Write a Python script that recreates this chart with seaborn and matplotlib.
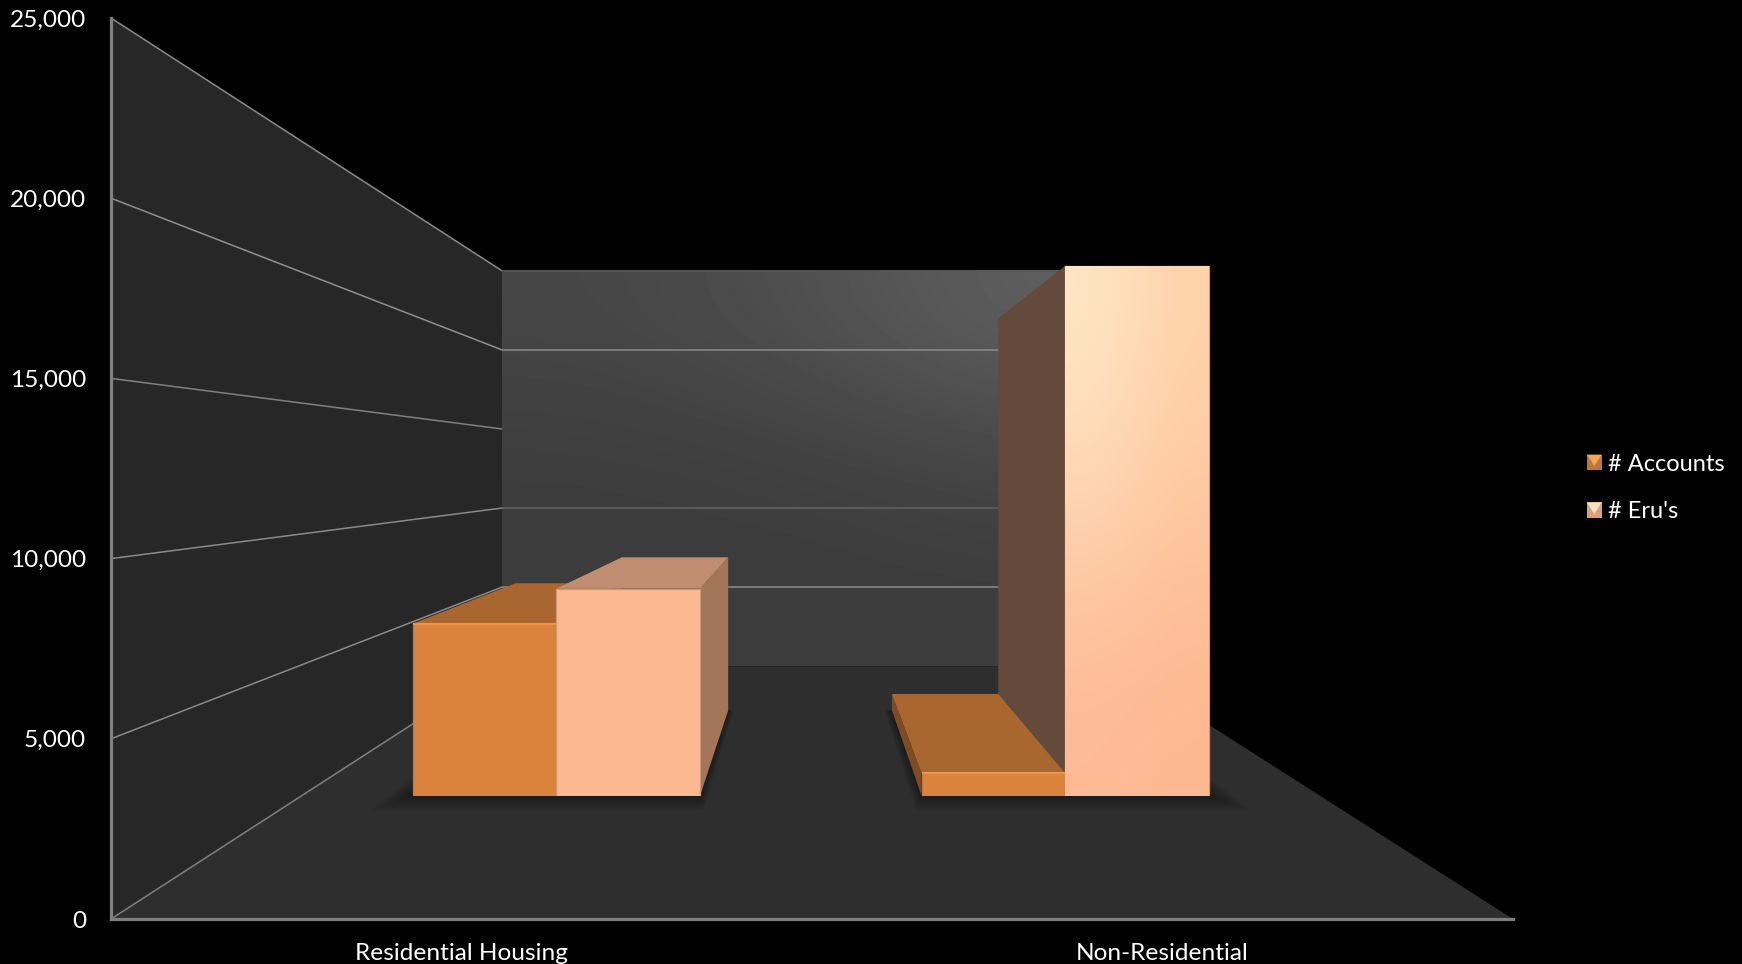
import numpy as np
import pandas as pd
import matplotlib
matplotlib.use("Agg")
import matplotlib.pyplot as plt
from matplotlib.colors import to_rgb
from matplotlib.legend_handler import HandlerBase
from matplotlib.patches import Polygon, Rectangle
import seaborn as sns

categories = ["Residential Housing", "Non-Residential"]
series_names = ["# Accounts", "# Eru's"]
accounts = [6570, 850]
erus = [7910, 20250]
y_ticks = [0, 5000, 10000, 15000, 20000, 25000]
y_tick_labels = ["0", "5,000", "10,000", "15,000", "20,000", "25,000"]

W, H = 1742, 964
sns.set_theme(style="dark", rc={"figure.facecolor": "black", "axes.facecolor": "none",
                                "savefig.facecolor": "black"})
plt.rcParams["font.family"] = ["Lato", "DejaVu Sans"]
FS = 17.6
FS_LEG = 17.0

fig = plt.figure(figsize=(W / 100, H / 100), dpi=100)

def box(x0, y_top, x1, y_bottom):
    return [x0 / W, 1 - y_bottom / H, (x1 - x0) / W, (y_bottom - y_top) / H]

# front plane of the 3-D box: its scales are the chart's scales
PX0, PX1, PY_TOP, PY_BOT = 111, 1513, 18, 919
ax = fig.add_axes(box(PX0, PY_TOP, PX1, PY_BOT), zorder=1)
XMIN, XMAX, YMAX = -0.5, 1.5, 25000
ax.set_xlim(XMIN, XMAX)
ax.set_ylim(0, YMAX)

# perspective: data point on the front plane pulled to the vanishing point
VX, VY = 0.494, 12500
S_BACK, S_BAR_FRONT, S_BAR_BACK = 0.4387, 0.726, 0.537

def project(x, v, s):
    return (VX + (x - VX) * s, VY + (v - VY) * s)

def face(points, color, **kw):
    ax.add_patch(Polygon([project(*p) for p in points], closed=True, facecolor=color,
                         edgecolor="none", linewidth=0, **kw))

# walls and floor
face([(XMIN, 0, 1), (XMIN, YMAX, 1), (XMIN, YMAX, S_BACK), (XMIN, 0, S_BACK)], "#272727", zorder=1)
face([(XMIN, 0, 1), (XMAX, 0, 1), (XMAX, 0, S_BACK), (XMIN, 0, S_BACK)], "#2e2e2e", zorder=1.6)

bl = project(XMIN, 0, S_BACK)
tr = project(XMAX, YMAX, S_BACK)
wall = np.array([[0x46, 0x50, 0x60], [0x3c, 0x3e, 0x45], [0x3e, 0x3c, 0x3c]]) / 255
ax.imshow(wall, cmap="gray", vmin=0, vmax=1, extent=(bl[0], tr[0], bl[1], tr[1]), origin="upper",
          aspect="auto", interpolation="bicubic", zorder=1.5)
ax.set_xlim(XMIN, XMAX)
ax.set_ylim(0, YMAX)

# gridlines
side_grid = {5000: "#8a8a8a", 10000: "#8a8a8a", 15000: "#808080", 20000: "#8f8f8f", 25000: "#8a8a8a", 0: "#808080"}
back_grid = {5000: "#8c8c8c", 10000: "#636363", 20000: "#8c8c8c", 25000: "#555555"}
for v, c in side_grid.items():
    a, b = project(XMIN, v, 1), project(XMIN, v, S_BACK)
    ax.plot([a[0], b[0]], [a[1], b[1]], color=c, lw=1.1, zorder=2, solid_capstyle="butt")
for v, c in back_grid.items():
    a, b = project(XMIN, v, S_BACK), project(XMAX, v, S_BACK)
    ax.plot([a[0], b[0]], [a[1], b[1]], color=c, lw=1.1, zorder=2, solid_capstyle="butt")

# axis styling
for s in ("top", "right"):
    ax.spines[s].set_visible(False)
for s in ("left", "bottom"):
    ax.spines[s].set_color("#7f7f7f")
    ax.spines[s].set_linewidth(2.3)
    ax.spines[s].set_zorder(5)
ax.set_yticks(y_ticks, y_tick_labels)
ax.set_xticks([0, 1], categories)
ax.tick_params(axis="y", length=0, pad=18, labelsize=FS, labelcolor="white")
ax.tick_params(axis="x", length=0, pad=17, labelsize=FS, labelcolor="white")
ax.grid(False)

# plane of the bars' front faces
c0 = project(XMIN, 0, S_BAR_FRONT)
c1 = project(XMAX, YMAX, S_BAR_FRONT)
p0, p1 = ax.transData.transform(c0), ax.transData.transform(c1)
ax_bars = fig.add_axes([p0[0] / W, p0[1] / H, (p1[0] - p0[0]) / W, (p1[1] - p0[1]) / H], zorder=2)

df = pd.DataFrame({
    "category": categories * 2,
    "series": [series_names[0]] * 2 + [series_names[1]] * 2,
    "value": accounts + erus,
})
front_colors = {series_names[0]: "#DB833C", series_names[1]: "#FBB891"}
sns.barplot(data=df, x="category", y="value", hue="series", order=categories, hue_order=series_names,
            palette=front_colors, width=0.565, gap=0, dodge=True, saturation=1, ax=ax_bars, legend=False)
ax_bars.set_xlim(XMIN, XMAX)
ax_bars.set_ylim(0, YMAX)
ax_bars.axis("off")

top_colors = ["#A9662E", "#C08D71"]
right_colors = ["#8F5A2C", "#A47659"]
left_colors = ["#7D4C24", "#634A3A"]
edge_colors = ["#C8752F", "#C79A7C"]

# soft shadows on the floor, then depth faces, painted from the outside in
for cat in range(2):
    bars = [ax_bars.containers[i][cat] for i in range(2)]
    x0 = min(b.get_x() for b in bars)
    x1 = max(b.get_x() + b.get_width() for b in bars)
    outward_left = x1 < VX
    for t in np.linspace(1, 0, 9):
        e_l = t * (0.045 if outward_left else 0.02)
        e_r = t * (0.015 if outward_left else 0.045)
        sf = S_BAR_FRONT + t * 0.032
        face([(x0 - e_l, 0, sf), (x1 + e_r, 0, sf), (x1 + e_r, 0, S_BAR_BACK), (x0 - e_l, 0, S_BAR_BACK)],
             "#141414", alpha=0.09, zorder=2.5)
    order = [0, 1] if outward_left else [1, 0]
    for z, i in enumerate(order):
        b = bars[i]
        bx0, bx1, h = b.get_x(), b.get_x() + b.get_width(), b.get_height()
        zo = 3 + z * 0.5
        if bx1 < VX:
            face([(bx1, 0, S_BAR_FRONT), (bx1, h, S_BAR_FRONT), (bx1, h, S_BAR_BACK), (bx1, 0, S_BAR_BACK)],
                 right_colors[i], zorder=zo)
        else:
            face([(bx0, 0, S_BAR_FRONT), (bx0, h, S_BAR_FRONT), (bx0, h, S_BAR_BACK), (bx0, 0, S_BAR_BACK)],
                 left_colors[i], zorder=zo)
        if h < VY:  # a top face is only seen when it lies below eye level
            face([(bx0, h, S_BAR_FRONT), (bx1, h, S_BAR_FRONT), (bx1, h, S_BAR_BACK), (bx0, h, S_BAR_BACK)],
                 top_colors[i], zorder=zo + 0.1)
        b.set_edgecolor(edge_colors[i])
        b.set_linewidth(0.9)

# lighter bevel along the top of the orange front faces
for b in ax_bars.containers[0]:
    ax_bars.plot([b.get_x(), b.get_x() + b.get_width()], [b.get_height(), b.get_height()],
                 color="#E8964C", lw=1.6, zorder=b.get_zorder() + 0.2, solid_capstyle="butt")

# gradient on the tall bar
tall = ax_bars.containers[1][1]
grad = np.array([[to_rgb("#FFE7C6"), to_rgb("#FFD3AB")],
                 [to_rgb("#FDB994"), to_rgb("#FDB790")]])
im = ax_bars.imshow(grad, extent=(tall.get_x(), tall.get_x() + tall.get_width(), 0, tall.get_height()),
                    origin="upper", aspect="auto", interpolation="bicubic", zorder=tall.get_zorder() + 0.1)
im.set_clip_path(tall)
ax_bars.set_xlim(XMIN, XMAX)
ax_bars.set_ylim(0, YMAX)

# legend with the small pyramid-shaded swatches
class Swatch(HandlerBase):
    def __init__(self, base, light):
        super().__init__()
        self.base, self.light = base, light

    def create_artists(self, legend, orig, xd, yd, w, h, fs, trans):
        r = Rectangle((-xd, -yd), w, h, facecolor=self.base, edgecolor="none", transform=trans)
        tri = Polygon([(-xd, h - yd), (w - xd, h - yd), (w / 2 - xd, h * 0.25 - yd)], closed=True,
                      facecolor=self.light, edgecolor="none", transform=trans)
        return [r, tri]

h1, h2 = Rectangle((0, 0), 1, 1), Rectangle((0, 0), 1, 1)
leg = fig.legend([h1, h2], series_names, loc="center left", bbox_to_anchor=(1587 / W, 1 - 488 / H),
                 frameon=False, fontsize=FS_LEG, labelcolor="white", handlelength=0.62, handleheight=0.62,
                 handletextpad=0.28, labelspacing=1.14, borderpad=0, borderaxespad=0,
                 handler_map={h1: Swatch("#C0763A", "#F2A654"), h2: Swatch("#DDA07F", "#FFE0BE")})

fig.savefig("out.png", dpi=100, facecolor="black")
